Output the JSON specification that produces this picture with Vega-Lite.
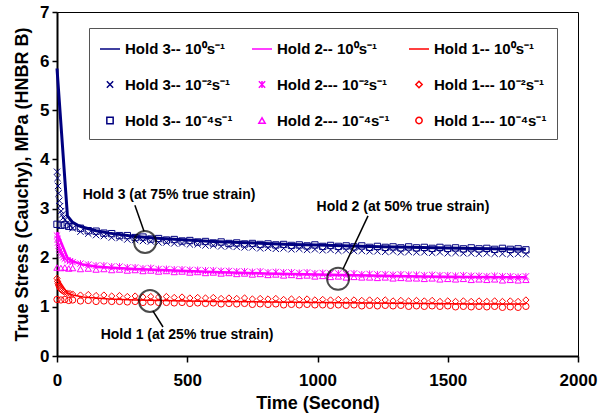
{
"$schema": "https://vega.github.io/schema/vega-lite/v6.json",
"width": 521, "height": 344,
"autosize": "none",
"padding": {"left": 57, "top": 12, "right": 34, "bottom": 60},
"background": "white",
"config": {"view": {"stroke": "black", "strokeWidth": 1}, "font": "Liberation Sans"},
"datasets": {
"lines": [
{"s":"a","t":0,"v":5.85},{"s":"a","t":40,"v":2.85},{"s":"a","t":60,"v":2.72},{"s":"a","t":80,"v":2.66},{"s":"a","t":100,"v":2.62},{"s":"a","t":150,"v":2.55},{"s":"a","t":200,"v":2.5},{"s":"a","t":300,"v":2.43},{"s":"a","t":400,"v":2.39},{"s":"a","t":500,"v":2.36},{"s":"a","t":600,"v":2.33},{"s":"a","t":700,"v":2.31},{"s":"a","t":800,"v":2.29},{"s":"a","t":900,"v":2.27},{"s":"a","t":1000,"v":2.26},{"s":"a","t":1200,"v":2.23},{"s":"a","t":1400,"v":2.21},{"s":"a","t":1600,"v":2.19},{"s":"a","t":1800,"v":2.17},
{"s":"b","t":0,"v":2.52},{"s":"b","t":40,"v":2.0},{"s":"b","t":60,"v":1.93},{"s":"b","t":80,"v":1.89},{"s":"b","t":100,"v":1.86},{"s":"b","t":150,"v":1.82},{"s":"b","t":200,"v":1.8},{"s":"b","t":300,"v":1.77},{"s":"b","t":400,"v":1.75},{"s":"b","t":500,"v":1.73},{"s":"b","t":600,"v":1.71},{"s":"b","t":800,"v":1.68},{"s":"b","t":1000,"v":1.66},{"s":"b","t":1200,"v":1.64},{"s":"b","t":1400,"v":1.62},{"s":"b","t":1600,"v":1.61},{"s":"b","t":1800,"v":1.6},
{"s":"c","t":0,"v":1.6},{"s":"c","t":40,"v":1.28},{"s":"c","t":60,"v":1.24},{"s":"c","t":80,"v":1.22},{"s":"c","t":100,"v":1.2},{"s":"c","t":150,"v":1.18},{"s":"c","t":200,"v":1.16},{"s":"c","t":300,"v":1.14},{"s":"c","t":400,"v":1.13},{"s":"c","t":600,"v":1.11},{"s":"c","t":800,"v":1.1},{"s":"c","t":1000,"v":1.09},{"s":"c","t":1200,"v":1.08},{"s":"c","t":1400,"v":1.07},{"s":"c","t":1600,"v":1.06},{"s":"c","t":1800,"v":1.06}
],
"pts": [
{"s":"d","t":0,"v":3.75},{"s":"d","t":2,"v":3.62},{"s":"d","t":4,"v":3.46},{"s":"d","t":6,"v":3.31},{"s":"d","t":9,"v":3.16},{"s":"d","t":12,"v":3.05},{"s":"d","t":16,"v":2.95},{"s":"d","t":20,"v":2.88},{"s":"d","t":25,"v":2.82},{"s":"d","t":30,"v":2.77},{"s":"d","t":40,"v":2.71},{"s":"d","t":50,"v":2.66},{"s":"d","t":60,"v":2.6},{"s":"d","t":90,"v":2.53},{"s":"d","t":120,"v":2.49},{"s":"d","t":150,"v":2.46},{"s":"d","t":180,"v":2.44},{"s":"d","t":210,"v":2.41},{"s":"d","t":240,"v":2.4},{"s":"d","t":270,"v":2.37},{"s":"d","t":300,"v":2.36},{"s":"d","t":330,"v":2.34},{"s":"d","t":360,"v":2.33},{"s":"d","t":390,"v":2.31},{"s":"d","t":420,"v":2.31},{"s":"d","t":450,"v":2.29},{"s":"d","t":480,"v":2.29},{"s":"d","t":510,"v":2.27},{"s":"d","t":540,"v":2.27},{"s":"d","t":570,"v":2.25},{"s":"d","t":600,"v":2.25},{"s":"d","t":630,"v":2.23},{"s":"d","t":660,"v":2.23},{"s":"d","t":690,"v":2.22},{"s":"d","t":720,"v":2.21},{"s":"d","t":750,"v":2.21},{"s":"d","t":780,"v":2.19},{"s":"d","t":810,"v":2.2},{"s":"d","t":840,"v":2.18},{"s":"d","t":870,"v":2.19},{"s":"d","t":900,"v":2.17},{"s":"d","t":930,"v":2.18},{"s":"d","t":960,"v":2.16},{"s":"d","t":990,"v":2.17},{"s":"d","t":1020,"v":2.15},{"s":"d","t":1050,"v":2.16},{"s":"d","t":1080,"v":2.14},{"s":"d","t":1110,"v":2.15},{"s":"d","t":1140,"v":2.14},{"s":"d","t":1170,"v":2.14},{"s":"d","t":1200,"v":2.13},{"s":"d","t":1230,"v":2.13},{"s":"d","t":1260,"v":2.12},{"s":"d","t":1290,"v":2.13},{"s":"d","t":1320,"v":2.11},{"s":"d","t":1350,"v":2.12},{"s":"d","t":1380,"v":2.11},{"s":"d","t":1410,"v":2.11},{"s":"d","t":1440,"v":2.1},{"s":"d","t":1470,"v":2.11},{"s":"d","t":1500,"v":2.09},{"s":"d","t":1530,"v":2.1},{"s":"d","t":1560,"v":2.09},{"s":"d","t":1590,"v":2.09},{"s":"d","t":1620,"v":2.08},{"s":"d","t":1650,"v":2.09},{"s":"d","t":1680,"v":2.08},{"s":"d","t":1710,"v":2.08},{"s":"d","t":1740,"v":2.07},{"s":"d","t":1770,"v":2.08},{"s":"d","t":1800,"v":2.07},
{"s":"e","t":0,"v":2.45},{"s":"e","t":2,"v":2.38},{"s":"e","t":4,"v":2.31},{"s":"e","t":6,"v":2.25},{"s":"e","t":9,"v":2.19},{"s":"e","t":12,"v":2.14},{"s":"e","t":16,"v":2.09},{"s":"e","t":20,"v":2.05},{"s":"e","t":25,"v":2.01},{"s":"e","t":30,"v":1.98},{"s":"e","t":40,"v":1.95},{"s":"e","t":50,"v":1.93},{"s":"e","t":60,"v":1.91},{"s":"e","t":90,"v":1.88},{"s":"e","t":120,"v":1.86},{"s":"e","t":150,"v":1.84},{"s":"e","t":180,"v":1.84},{"s":"e","t":210,"v":1.82},{"s":"e","t":240,"v":1.82},{"s":"e","t":270,"v":1.8},{"s":"e","t":300,"v":1.8},{"s":"e","t":330,"v":1.78},{"s":"e","t":360,"v":1.79},{"s":"e","t":390,"v":1.77},{"s":"e","t":420,"v":1.77},{"s":"e","t":450,"v":1.76},{"s":"e","t":480,"v":1.76},{"s":"e","t":510,"v":1.75},{"s":"e","t":540,"v":1.75},{"s":"e","t":570,"v":1.74},{"s":"e","t":600,"v":1.74},{"s":"e","t":630,"v":1.73},{"s":"e","t":660,"v":1.73},{"s":"e","t":690,"v":1.72},{"s":"e","t":720,"v":1.72},{"s":"e","t":750,"v":1.71},{"s":"e","t":780,"v":1.72},{"s":"e","t":810,"v":1.7},{"s":"e","t":840,"v":1.71},{"s":"e","t":870,"v":1.7},{"s":"e","t":900,"v":1.7},{"s":"e","t":930,"v":1.69},{"s":"e","t":960,"v":1.7},{"s":"e","t":990,"v":1.68},{"s":"e","t":1020,"v":1.69},{"s":"e","t":1050,"v":1.68},{"s":"e","t":1080,"v":1.68},{"s":"e","t":1110,"v":1.67},{"s":"e","t":1140,"v":1.68},{"s":"e","t":1170,"v":1.66},{"s":"e","t":1200,"v":1.67},{"s":"e","t":1230,"v":1.66},{"s":"e","t":1260,"v":1.66},{"s":"e","t":1290,"v":1.65},{"s":"e","t":1320,"v":1.66},{"s":"e","t":1350,"v":1.65},{"s":"e","t":1380,"v":1.65},{"s":"e","t":1410,"v":1.64},{"s":"e","t":1440,"v":1.65},{"s":"e","t":1470,"v":1.64},{"s":"e","t":1500,"v":1.64},{"s":"e","t":1530,"v":1.63},{"s":"e","t":1560,"v":1.64},{"s":"e","t":1590,"v":1.63},{"s":"e","t":1620,"v":1.63},{"s":"e","t":1650,"v":1.62},{"s":"e","t":1680,"v":1.63},{"s":"e","t":1710,"v":1.62},{"s":"e","t":1740,"v":1.62},{"s":"e","t":1770,"v":1.61},{"s":"e","t":1800,"v":1.62},
{"s":"f","t":0,"v":1.58},{"s":"f","t":2,"v":1.52},{"s":"f","t":4,"v":1.47},{"s":"f","t":6,"v":1.43},{"s":"f","t":9,"v":1.4},{"s":"f","t":12,"v":1.37},{"s":"f","t":16,"v":1.35},{"s":"f","t":20,"v":1.33},{"s":"f","t":25,"v":1.31},{"s":"f","t":30,"v":1.3},{"s":"f","t":40,"v":1.28},{"s":"f","t":50,"v":1.27},{"s":"f","t":60,"v":1.26},{"s":"f","t":90,"v":1.24},{"s":"f","t":120,"v":1.25},{"s":"f","t":150,"v":1.23},{"s":"f","t":180,"v":1.24},{"s":"f","t":210,"v":1.22},{"s":"f","t":240,"v":1.23},{"s":"f","t":270,"v":1.21},{"s":"f","t":300,"v":1.22},{"s":"f","t":330,"v":1.2},{"s":"f","t":360,"v":1.21},{"s":"f","t":390,"v":1.2},{"s":"f","t":420,"v":1.21},{"s":"f","t":450,"v":1.19},{"s":"f","t":480,"v":1.2},{"s":"f","t":510,"v":1.18},{"s":"f","t":540,"v":1.19},{"s":"f","t":570,"v":1.18},{"s":"f","t":600,"v":1.19},{"s":"f","t":630,"v":1.17},{"s":"f","t":660,"v":1.18},{"s":"f","t":690,"v":1.17},{"s":"f","t":720,"v":1.18},{"s":"f","t":750,"v":1.16},{"s":"f","t":780,"v":1.17},{"s":"f","t":810,"v":1.16},{"s":"f","t":840,"v":1.17},{"s":"f","t":870,"v":1.15},{"s":"f","t":900,"v":1.16},{"s":"f","t":930,"v":1.15},{"s":"f","t":960,"v":1.16},{"s":"f","t":990,"v":1.14},{"s":"f","t":1020,"v":1.15},{"s":"f","t":1050,"v":1.14},{"s":"f","t":1080,"v":1.15},{"s":"f","t":1110,"v":1.13},{"s":"f","t":1140,"v":1.14},{"s":"f","t":1170,"v":1.13},{"s":"f","t":1200,"v":1.14},{"s":"f","t":1230,"v":1.13},{"s":"f","t":1260,"v":1.14},{"s":"f","t":1290,"v":1.12},{"s":"f","t":1320,"v":1.13},{"s":"f","t":1350,"v":1.12},{"s":"f","t":1380,"v":1.13},{"s":"f","t":1410,"v":1.12},{"s":"f","t":1440,"v":1.13},{"s":"f","t":1470,"v":1.11},{"s":"f","t":1500,"v":1.12},{"s":"f","t":1530,"v":1.11},{"s":"f","t":1560,"v":1.12},{"s":"f","t":1590,"v":1.11},{"s":"f","t":1620,"v":1.12},{"s":"f","t":1650,"v":1.11},{"s":"f","t":1680,"v":1.12},{"s":"f","t":1710,"v":1.11},{"s":"f","t":1740,"v":1.12},{"s":"f","t":1770,"v":1.11},{"s":"f","t":1800,"v":1.14},
{"s":"g","t":0,"v":2.68},{"s":"g","t":15,"v":2.66},{"s":"g","t":30,"v":2.67},{"s":"g","t":45,"v":2.64},{"s":"g","t":60,"v":2.63},{"s":"g","t":90,"v":2.6},{"s":"g","t":120,"v":2.55},{"s":"g","t":150,"v":2.54},{"s":"g","t":180,"v":2.5},{"s":"g","t":210,"v":2.49},{"s":"g","t":240,"v":2.45},{"s":"g","t":270,"v":2.45},{"s":"g","t":300,"v":2.41},{"s":"g","t":330,"v":2.42},{"s":"g","t":360,"v":2.38},{"s":"g","t":390,"v":2.39},{"s":"g","t":420,"v":2.36},{"s":"g","t":450,"v":2.37},{"s":"g","t":480,"v":2.34},{"s":"g","t":510,"v":2.35},{"s":"g","t":540,"v":2.32},{"s":"g","t":570,"v":2.33},{"s":"g","t":600,"v":2.3},{"s":"g","t":630,"v":2.32},{"s":"g","t":660,"v":2.29},{"s":"g","t":690,"v":2.3},{"s":"g","t":720,"v":2.28},{"s":"g","t":750,"v":2.29},{"s":"g","t":780,"v":2.27},{"s":"g","t":810,"v":2.28},{"s":"g","t":840,"v":2.26},{"s":"g","t":870,"v":2.27},{"s":"g","t":900,"v":2.25},{"s":"g","t":930,"v":2.26},{"s":"g","t":960,"v":2.24},{"s":"g","t":990,"v":2.26},{"s":"g","t":1020,"v":2.23},{"s":"g","t":1050,"v":2.25},{"s":"g","t":1080,"v":2.23},{"s":"g","t":1110,"v":2.24},{"s":"g","t":1140,"v":2.22},{"s":"g","t":1170,"v":2.24},{"s":"g","t":1200,"v":2.21},{"s":"g","t":1230,"v":2.23},{"s":"g","t":1260,"v":2.21},{"s":"g","t":1290,"v":2.22},{"s":"g","t":1320,"v":2.2},{"s":"g","t":1350,"v":2.22},{"s":"g","t":1380,"v":2.2},{"s":"g","t":1410,"v":2.21},{"s":"g","t":1440,"v":2.19},{"s":"g","t":1470,"v":2.21},{"s":"g","t":1500,"v":2.19},{"s":"g","t":1530,"v":2.2},{"s":"g","t":1560,"v":2.18},{"s":"g","t":1590,"v":2.2},{"s":"g","t":1620,"v":2.18},{"s":"g","t":1650,"v":2.19},{"s":"g","t":1680,"v":2.17},{"s":"g","t":1710,"v":2.19},{"s":"g","t":1740,"v":2.17},{"s":"g","t":1770,"v":2.18},{"s":"g","t":1800,"v":2.16},
{"s":"h","t":0,"v":1.8},{"s":"h","t":15,"v":1.79},{"s":"h","t":30,"v":1.8},{"s":"h","t":45,"v":1.78},{"s":"h","t":60,"v":1.79},{"s":"h","t":90,"v":1.77},{"s":"h","t":120,"v":1.78},{"s":"h","t":150,"v":1.76},{"s":"h","t":180,"v":1.77},{"s":"h","t":210,"v":1.75},{"s":"h","t":240,"v":1.76},{"s":"h","t":270,"v":1.74},{"s":"h","t":300,"v":1.75},{"s":"h","t":330,"v":1.73},{"s":"h","t":360,"v":1.74},{"s":"h","t":390,"v":1.72},{"s":"h","t":420,"v":1.73},{"s":"h","t":450,"v":1.71},{"s":"h","t":480,"v":1.72},{"s":"h","t":510,"v":1.7},{"s":"h","t":540,"v":1.71},{"s":"h","t":570,"v":1.69},{"s":"h","t":600,"v":1.7},{"s":"h","t":630,"v":1.68},{"s":"h","t":660,"v":1.69},{"s":"h","t":690,"v":1.67},{"s":"h","t":720,"v":1.68},{"s":"h","t":750,"v":1.66},{"s":"h","t":780,"v":1.67},{"s":"h","t":810,"v":1.65},{"s":"h","t":840,"v":1.66},{"s":"h","t":870,"v":1.64},{"s":"h","t":900,"v":1.65},{"s":"h","t":930,"v":1.63},{"s":"h","t":960,"v":1.64},{"s":"h","t":990,"v":1.62},{"s":"h","t":1020,"v":1.63},{"s":"h","t":1050,"v":1.61},{"s":"h","t":1080,"v":1.62},{"s":"h","t":1110,"v":1.6},{"s":"h","t":1140,"v":1.61},{"s":"h","t":1170,"v":1.6},{"s":"h","t":1200,"v":1.6},{"s":"h","t":1230,"v":1.59},{"s":"h","t":1260,"v":1.6},{"s":"h","t":1290,"v":1.58},{"s":"h","t":1320,"v":1.59},{"s":"h","t":1350,"v":1.58},{"s":"h","t":1380,"v":1.58},{"s":"h","t":1410,"v":1.57},{"s":"h","t":1440,"v":1.58},{"s":"h","t":1470,"v":1.56},{"s":"h","t":1500,"v":1.57},{"s":"h","t":1530,"v":1.56},{"s":"h","t":1560,"v":1.57},{"s":"h","t":1590,"v":1.55},{"s":"h","t":1620,"v":1.56},{"s":"h","t":1650,"v":1.55},{"s":"h","t":1680,"v":1.56},{"s":"h","t":1710,"v":1.54},{"s":"h","t":1740,"v":1.55},{"s":"h","t":1770,"v":1.54},{"s":"h","t":1800,"v":1.55},
{"s":"i","t":0,"v":1.15},{"s":"i","t":15,"v":1.14},{"s":"i","t":30,"v":1.15},{"s":"i","t":45,"v":1.13},{"s":"i","t":60,"v":1.14},{"s":"i","t":90,"v":1.12},{"s":"i","t":120,"v":1.13},{"s":"i","t":150,"v":1.11},{"s":"i","t":180,"v":1.12},{"s":"i","t":210,"v":1.11},{"s":"i","t":240,"v":1.11},{"s":"i","t":270,"v":1.1},{"s":"i","t":300,"v":1.11},{"s":"i","t":330,"v":1.09},{"s":"i","t":360,"v":1.1},{"s":"i","t":390,"v":1.09},{"s":"i","t":420,"v":1.09},{"s":"i","t":450,"v":1.08},{"s":"i","t":480,"v":1.09},{"s":"i","t":510,"v":1.07},{"s":"i","t":540,"v":1.08},{"s":"i","t":570,"v":1.07},{"s":"i","t":600,"v":1.08},{"s":"i","t":630,"v":1.06},{"s":"i","t":660,"v":1.07},{"s":"i","t":690,"v":1.06},{"s":"i","t":720,"v":1.07},{"s":"i","t":750,"v":1.05},{"s":"i","t":780,"v":1.06},{"s":"i","t":810,"v":1.05},{"s":"i","t":840,"v":1.06},{"s":"i","t":870,"v":1.04},{"s":"i","t":900,"v":1.05},{"s":"i","t":930,"v":1.04},{"s":"i","t":960,"v":1.05},{"s":"i","t":990,"v":1.04},{"s":"i","t":1020,"v":1.04},{"s":"i","t":1050,"v":1.03},{"s":"i","t":1080,"v":1.04},{"s":"i","t":1110,"v":1.03},{"s":"i","t":1140,"v":1.04},{"s":"i","t":1170,"v":1.02},{"s":"i","t":1200,"v":1.03},{"s":"i","t":1230,"v":1.02},{"s":"i","t":1260,"v":1.03},{"s":"i","t":1290,"v":1.02},{"s":"i","t":1320,"v":1.03},{"s":"i","t":1350,"v":1.01},{"s":"i","t":1380,"v":1.02},{"s":"i","t":1410,"v":1.01},{"s":"i","t":1440,"v":1.02},{"s":"i","t":1470,"v":1.01},{"s":"i","t":1500,"v":1.02},{"s":"i","t":1530,"v":1.0},{"s":"i","t":1560,"v":1.01},{"s":"i","t":1590,"v":1.0},{"s":"i","t":1620,"v":1.01},{"s":"i","t":1650,"v":1.0},{"s":"i","t":1680,"v":1.01},{"s":"i","t":1710,"v":0.99},{"s":"i","t":1740,"v":1.0},{"s":"i","t":1770,"v":0.99},{"s":"i","t":1800,"v":1.01}
],
"notes": [
{"t":430,"v":3.28,"txt":"Hold 3 (at 75% true strain)"},
{"t":1328,"v":3.03,"txt":"Hold 2 (at 50% true strain)"},
{"t":499,"v":0.43,"txt":"Hold 1 (at 25% true strain)"}
],
"links": [
{"t":299,"v":3.07,"t2":334,"v2":2.54},
{"t":1194,"v":2.85,"t2":1098,"v2":1.77},
{"t":368,"v":0.92,"t2":407,"v2":0.59}
],
"rings": [
{"t":338,"v":2.32},
{"t":1079,"v":1.57},
{"t":357,"v":1.12}
]
},
"layer": [
{
"data": {"name": "pts"},
"mark": {"type": "point", "filled": false, "opacity": 1, "strokeWidth": 1},
"encoding": {
"x": {"field": "t", "type": "quantitative", "scale": {"domain": [0, 2000], "nice": false},
"axis": {"values": [0, 500, 1000, 1500, 2000], "format": "d", "title": "Time (Second)", "grid": false, "labelFlush": false, "labelOverlap": false,
"labelFont": "Liberation Sans", "labelFontWeight": "bold", "labelFontSize": 17, "labelColor": "black", "labelPadding": 10,
"titleFont": "Liberation Sans", "titleFontWeight": "bold", "titleFontSize": 18, "titleColor": "black", "titlePadding": 6,
"domainColor": "black", "domainWidth": 2, "tickColor": "black", "tickWidth": 1.5, "tickSize": 6}},
"y": {"field": "v", "type": "quantitative", "scale": {"domain": [0, 7], "nice": false},
"axis": {"values": [0, 1, 2, 3, 4, 5, 6, 7], "title": "True Stress (Cauchy), MPa (HNBR B)", "grid": false, "labelFlush": false, "labelOverlap": false,
"labelFont": "Liberation Sans", "labelFontWeight": "bold", "labelFontSize": 17, "labelColor": "black", "labelPadding": 3,
"titleFont": "Liberation Sans", "titleFontWeight": "bold", "titleFontSize": 18, "titleColor": "black", "titlePadding": 8,
"domainColor": "black", "domainWidth": 2, "tickColor": "black", "tickWidth": 1.5, "tickSize": 5}},
"color": {"field": "s", "type": "nominal",
"scale": {"domain": ["a","d","g","b","e","h","c","f","i"], "range": ["#000080","#000080","#000080","#FF00FF","#FF00FF","#FF00FF","#FF0000","#FF0000","#FF0000"]},
"legend": {"orient": "none", "legendX": 32, "legendY": 16, "columns": 3, "title": null,
"labelExpr": "datum.value=='a'?'Hold 3-- 10⁰s⁻¹':datum.value=='b'?'Hold 2-- 10⁰s⁻¹':datum.value=='c'?'Hold 1-- 10⁰s⁻¹':datum.value=='d'?'Hold 3-- 10⁻²s⁻¹':datum.value=='e'?'Hold 2--- 10⁻²s⁻¹':datum.value=='f'?'Hold 1--- 10⁻²s⁻¹':datum.value=='g'?'Hold 3-- 10⁻⁴s⁻¹':datum.value=='h'?'Hold 2--- 10⁻⁴s⁻¹':'Hold 1--- 10⁻⁴s⁻¹'",
"labelFont": "Liberation Sans", "labelFontWeight": "bold", "labelFontSize": 15, "labelColor": "black", "labelOffset": 4, "labelLimit": 300,
"strokeColor": "#555555", "fillColor": "white", "padding": 10, "rowPadding": 20, "columnPadding": 16, "symbolStrokeWidth": 1.5}},
"shape": {"field": "s", "type": "nominal",
"scale": {"domain": ["a","d","g","b","e","h","c","f","i"], "range": ["stroke","M-1,-1L1,1M1,-1L-1,1","square","stroke","M-1,-1L1,1M1,-1L-1,1M0,-1.1L0,1.1","triangle-up","stroke","diamond","circle"]}},
"size": {"field": "s", "type": "nominal",
"scale": {"type": "ordinal", "domain": ["a","d","g","b","e","h","c","f","i"], "range": [400, 40, 40, 400, 40, 40, 400, 40, 40]}}
}
},
{
"data": {"name": "lines"},
"mark": {"type": "line"},
"encoding": {
"x": {"field": "t", "type": "quantitative"},
"y": {"field": "v", "type": "quantitative"},
"stroke": {"field": "s", "type": "nominal", "scale": {"domain": ["a","b","c"], "range": ["#000080","#FF00FF","#FF0000"]}, "legend": null},
"strokeWidth": {"field": "s", "type": "nominal", "scale": {"type": "ordinal", "domain": ["a","b","c"], "range": [3, 2.5, 1.5]}, "legend": null}
}
},
{
"data": {"name": "links"},
"mark": {"type": "rule", "color": "black", "strokeWidth": 1.5},
"encoding": {
"x": {"field": "t", "type": "quantitative"},
"y": {"field": "v", "type": "quantitative"},
"x2": {"field": "t2"},
"y2": {"field": "v2"}
}
},
{
"data": {"name": "rings"},
"mark": {"type": "point", "shape": "circle", "filled": false, "stroke": "black", "strokeWidth": 2, "size": 484},
"encoding": {
"x": {"field": "t", "type": "quantitative"},
"y": {"field": "v", "type": "quantitative"}
}
},
{
"data": {"name": "notes"},
"mark": {"type": "text", "font": "Liberation Sans", "fontWeight": "bold", "fontSize": 14, "color": "black", "align": "center", "baseline": "middle"},
"encoding": {
"x": {"field": "t", "type": "quantitative"},
"y": {"field": "v", "type": "quantitative"},
"text": {"field": "txt"}
}
}
]
}
